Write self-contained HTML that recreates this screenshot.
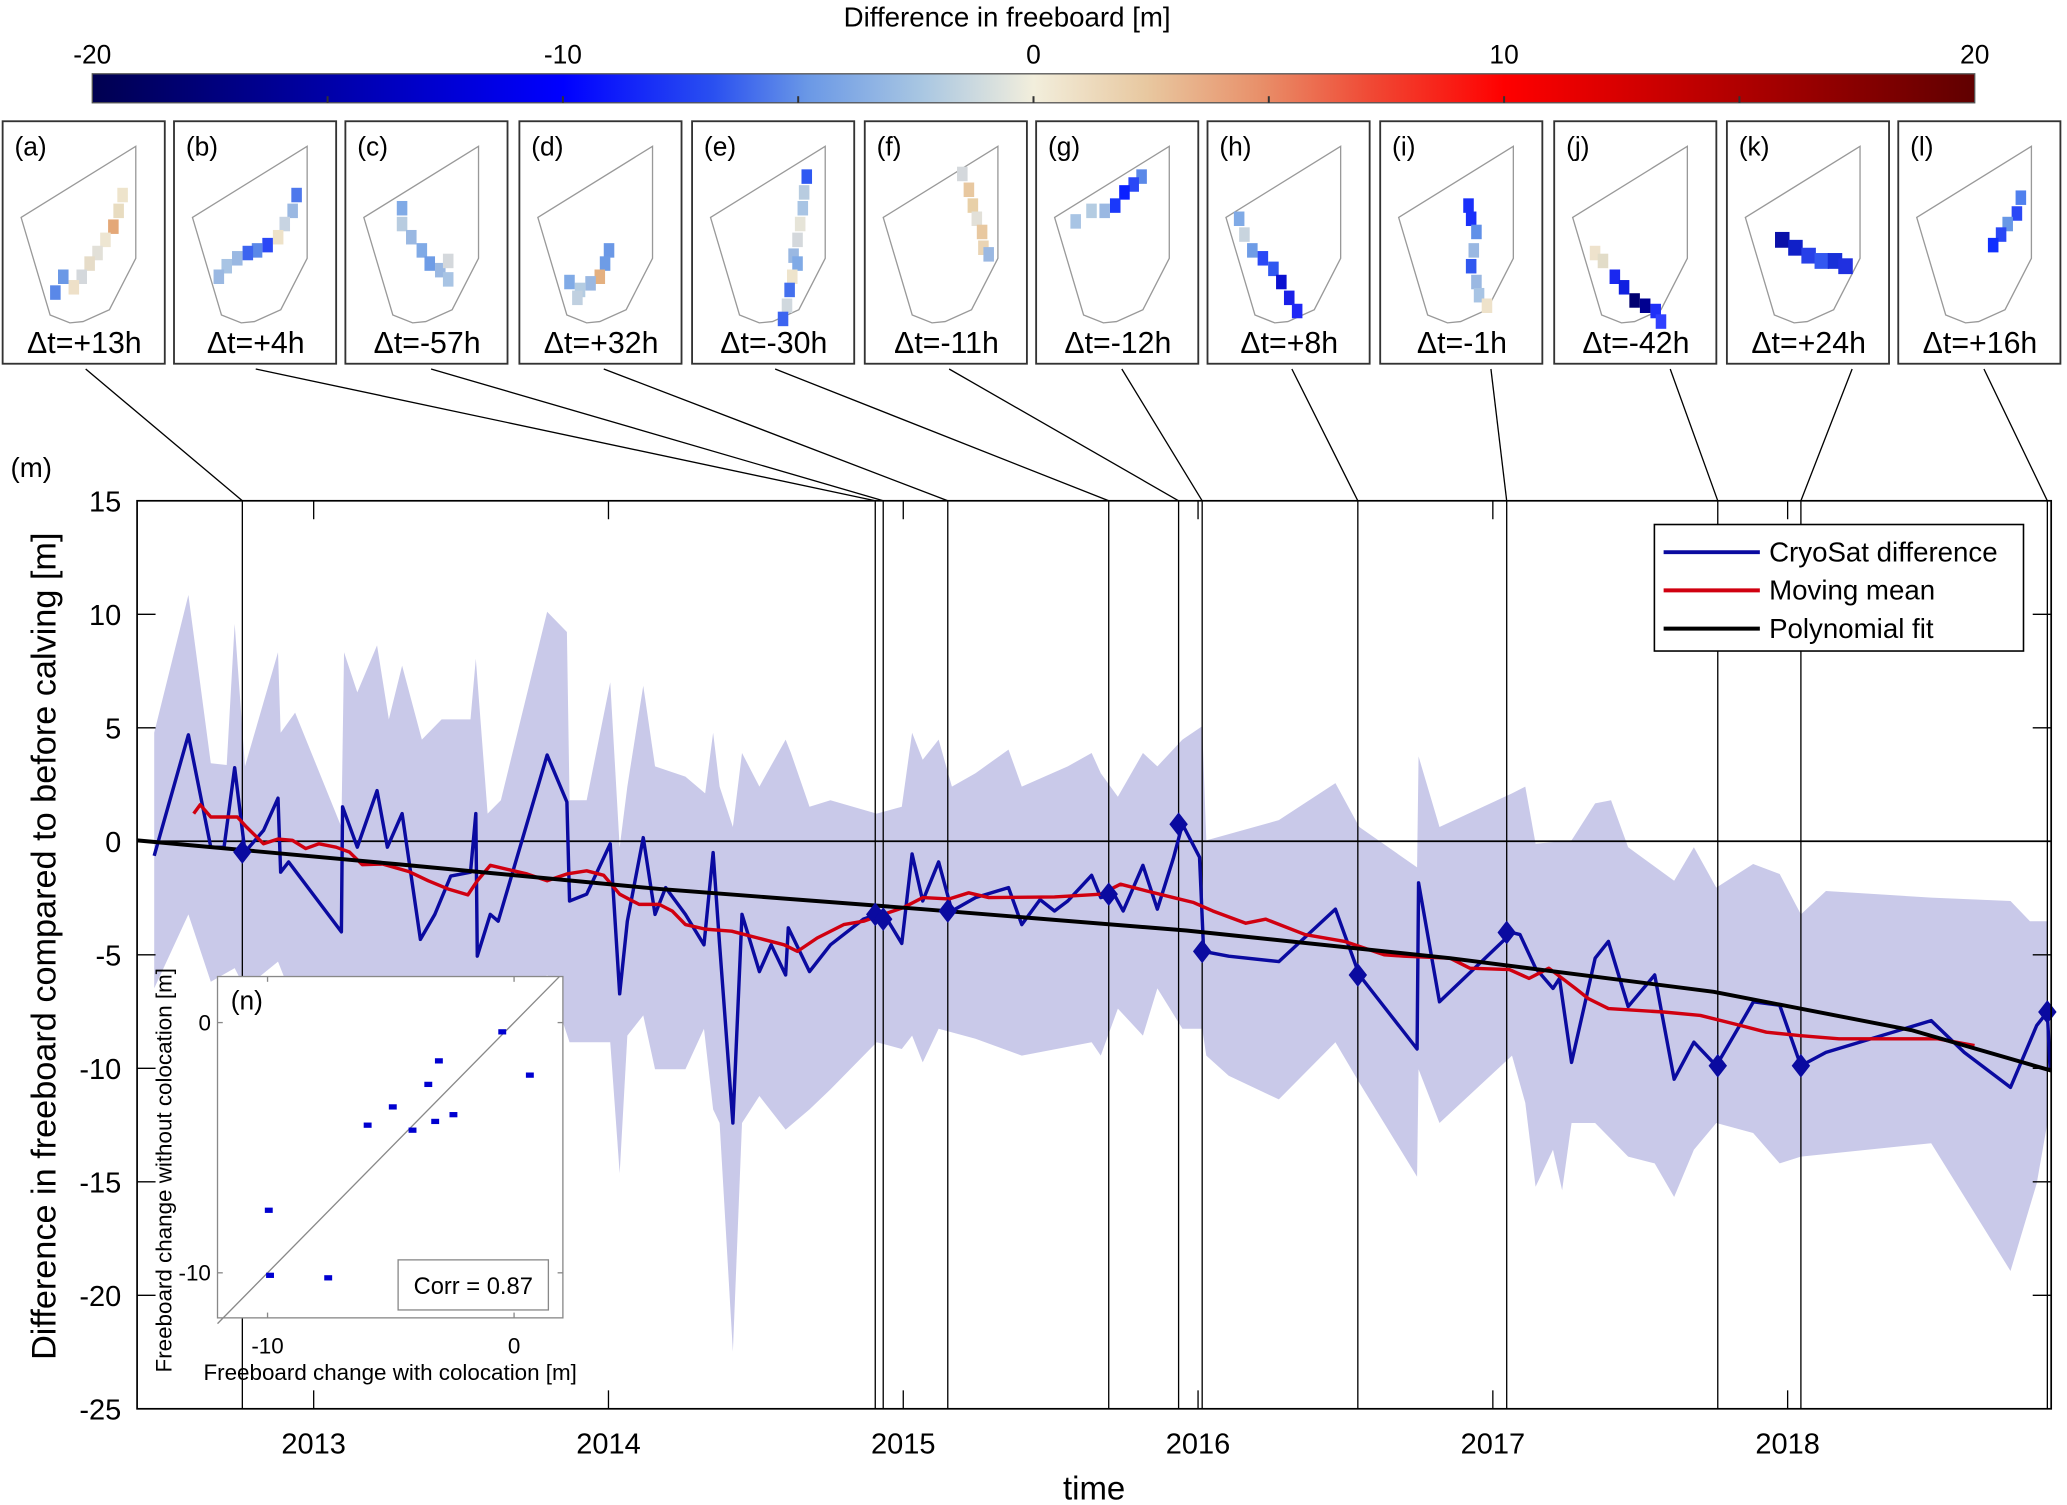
<!DOCTYPE html>
<html><head><meta charset="utf-8"><style>
html,body{margin:0;padding:0;background:#fff;}
svg{display:block;font-family:"Liberation Sans",Arial,sans-serif;}
</style></head><body>
<svg id="fig" xmlns="http://www.w3.org/2000/svg" width="2067" height="1505" viewBox="0 0 1568 1142" preserveAspectRatio="none">
<defs>
<linearGradient id="cmap" x1="0" x2="1" y1="0" y2="0">
<stop offset="0" stop-color="#000050"/>
<stop offset="0.25" stop-color="#0000ff"/>
<stop offset="0.33" stop-color="#2a50f0"/>
<stop offset="0.38" stop-color="#6a98e6"/>
<stop offset="0.44" stop-color="#a8c6e2"/>
<stop offset="0.5" stop-color="#f2eedc"/>
<stop offset="0.56" stop-color="#e8c8a0"/>
<stop offset="0.62" stop-color="#e8906a"/>
<stop offset="0.68" stop-color="#f04834"/>
<stop offset="0.75" stop-color="#ff0000"/>
<stop offset="1" stop-color="#600000"/>
</linearGradient>
</defs>
<g id="colorbar">
<text x="764" y="20" font-size="21" text-anchor="middle">Difference in freeboard  [m]</text>
<rect x="70" y="56" width="1428" height="22" fill="url(#cmap)" stroke="#555" stroke-width="1"/>
</g>
<g id="panels"></g>
<g id="connectors"></g>
<g id="main"></g>
<g id="inset"></g>
</svg>
<script>
// ---------- main chart data ----------
const blueTimes=[2012.459,2012.575,2012.651,2012.696,2012.732,2012.767,2012.830,2012.879,2012.888,2012.915,2013.094,2013.098,2013.148,2013.215,2013.250,2013.300,2013.362,2013.411,2013.465,2013.532,2013.550,2013.555,2013.599,2013.626,2013.792,2013.859,2013.868,2013.926,2014.006,2014.038,2014.064,2014.118,2014.158,2014.194,2014.261,2014.324,2014.355,2014.377,2014.422,2014.453,2014.512,2014.552,2014.601,2014.610,2014.682,2014.753,2014.865,2014.910,2014.945,2014.995,2015.030,2015.066,2015.120,2015.165,2015.245,2015.357,2015.402,2015.464,2015.513,2015.558,2015.639,2015.670,2015.715,2015.746,2015.813,2015.862,2015.916,2015.947,2016.005,2016.019,2016.104,2016.274,2016.466,2016.547,2016.743,2016.748,2016.819,2017.065,2017.092,2017.145,2017.204,2017.226,2017.267,2017.347,2017.392,2017.459,2017.549,2017.615,2017.682,2017.758,2017.884,2017.973,2018.045,2018.130,2018.487,2018.599,2018.756,2018.845,2018.881,2018.890];
const blueValues=[-0.64,4.69,-0.26,-0.26,3.24,-0.47,0.48,1.9,-1.36,-0.91,-3.99,1.52,-0.26,2.23,-0.26,1.22,-4.32,-3.22,-1.53,-1.36,1.22,-5.06,-3.22,-3.52,3.8,1.73,-2.63,-2.33,-0.11,-6.72,-3.52,0.16,-3.22,-2.04,-3.22,-4.56,-0.5,-4.56,-12.41,-3.22,-5.74,-4.56,-5.89,-3.81,-5.74,-4.56,-3.43,-3.22,-3.43,-4.5,-0.56,-2.63,-0.91,-3.07,-2.48,-2.04,-3.67,-2.57,-3.07,-2.63,-1.5,-2.48,-2.33,-3.07,-1.06,-2.99,-0.76,0.75,-0.7,-4.85,-5.06,-5.3,-2.99,-5.89,-9.15,-1.83,-7.07,-4.02,-4.11,-5.59,-6.48,-6.04,-9.74,-5.15,-4.41,-7.28,-5.89,-10.48,-8.85,-9.89,-7.07,-7.22,-9.89,-9.3,-7.9,-9.3,-10.84,-8.11,-7.52,-9.98];
const upperTimes=[2012.459,2012.575,2012.651,2012.705,2012.732,2012.767,2012.879,2012.888,2012.937,2013.094,2013.103,2013.148,2013.215,2013.255,2013.300,2013.367,2013.434,2013.532,2013.550,2013.590,2013.635,2013.792,2013.859,2013.868,2013.926,2014.006,2014.038,2014.064,2014.118,2014.158,2014.261,2014.328,2014.355,2014.377,2014.422,2014.453,2014.512,2014.601,2014.619,2014.682,2014.753,2014.910,2014.995,2015.030,2015.066,2015.120,2015.165,2015.245,2015.357,2015.402,2015.558,2015.639,2015.670,2015.728,2015.813,2015.862,2015.947,2016.014,2016.028,2016.274,2016.466,2016.547,2016.743,2016.748,2016.819,2017.065,2017.110,2017.145,2017.267,2017.347,2017.401,2017.459,2017.615,2017.682,2017.758,2017.883,2017.973,2018.045,2018.130,2018.487,2018.756,2018.822,2018.881];
const upperValues=[4.78,10.85,3.44,3.36,9.58,3.3,8.33,4.78,5.67,0.63,8.33,6.56,8.63,5.37,7.74,4.48,5.37,5.37,8.04,1.22,1.81,10.11,9.22,1.81,1.81,7.0,-0.26,2.41,6.85,3.3,2.85,2.11,4.78,2.41,0.63,3.89,2.41,4.48,3.89,1.52,1.81,1.22,1.52,4.78,3.59,4.48,2.41,3.0,4.04,2.41,3.3,3.89,3.0,1.96,3.89,3.3,4.48,5.07,0.04,0.93,2.56,0.63,-1.15,3.74,0.63,2.11,2.41,-0.11,0.04,1.67,1.81,-0.26,-1.74,-0.26,-2.04,-1.0,-1.44,-3.22,-2.19,-2.48,-2.63,-3.52,-3.52];
const lowerTimes=[2012.459,2012.575,2012.651,2012.732,2012.767,2012.879,2012.915,2013.094,2013.148,2013.215,2013.300,2013.367,2013.550,2013.635,2013.792,2013.868,2014.006,2014.038,2014.064,2014.118,2014.158,2014.261,2014.324,2014.355,2014.377,2014.422,2014.453,2014.512,2014.601,2014.682,2014.753,2014.910,2014.995,2015.030,2015.066,2015.120,2015.245,2015.402,2015.639,2015.670,2015.728,2015.813,2015.862,2015.947,2016.014,2016.028,2016.104,2016.274,2016.466,2016.547,2016.743,2016.748,2016.819,2017.065,2017.110,2017.145,2017.204,2017.235,2017.267,2017.347,2017.459,2017.549,2017.615,2017.682,2017.758,2017.883,2017.973,2018.045,2018.487,2018.756,2018.845,2018.881];
const lowerValues=[-6.48,-3.22,-6.19,-5.59,-6.48,-5.3,-6.48,-9.44,-6.78,-6.48,-6.19,-8.85,-9.44,-8.56,-5.89,-8.85,-8.85,-14.63,-8.56,-7.67,-10.04,-10.04,-8.26,-11.81,-12.41,-22.48,-12.41,-11.22,-12.7,-11.81,-10.93,-8.85,-9.15,-8.56,-9.74,-8.26,-8.7,-9.44,-8.85,-9.44,-7.37,-8.56,-6.48,-8.26,-8.26,-9.44,-10.33,-11.37,-8.85,-10.63,-14.78,-10.04,-12.41,-9.44,-11.52,-15.22,-13.59,-15.37,-12.41,-12.41,-13.89,-14.19,-15.67,-13.59,-12.41,-12.85,-14.19,-13.89,-13.3,-18.93,-15.07,-12.41];
const meanTimes=[2012.593,2012.615,2012.651,2012.741,2012.772,2012.830,2012.879,2012.928,2012.973,2013.018,2013.076,2013.121,2013.165,2013.233,2013.322,2013.389,2013.456,2013.523,2013.555,2013.599,2013.724,2013.792,2013.859,2013.926,2013.984,2014.038,2014.104,2014.172,2014.216,2014.261,2014.328,2014.418,2014.507,2014.596,2014.641,2014.708,2014.798,2014.865,2014.932,2014.999,2015.066,2015.155,2015.222,2015.290,2015.513,2015.670,2015.737,2015.826,2015.916,2015.983,2016.050,2016.162,2016.229,2016.363,2016.497,2016.631,2016.698,2016.855,2016.922,2017.056,2017.123,2017.190,2017.280,2017.324,2017.392,2017.579,2017.704,2017.839,2017.928,2018.040,2018.174,2018.509,2018.634];
const meanValues=[1.22,1.61,1.07,1.07,0.63,-0.11,0.1,0.04,-0.32,-0.11,-0.26,-0.47,-1.03,-1.0,-1.33,-1.74,-2.1,-2.36,-1.74,-1.06,-1.44,-1.74,-1.44,-1.3,-1.5,-2.33,-2.78,-2.78,-3.07,-3.67,-3.87,-3.96,-4.26,-4.56,-4.85,-4.26,-3.67,-3.52,-3.22,-2.93,-2.48,-2.54,-2.27,-2.48,-2.45,-2.33,-1.89,-2.19,-2.48,-2.69,-3.07,-3.61,-3.43,-4.11,-4.41,-5.0,-5.06,-5.15,-5.59,-5.65,-6.04,-5.59,-6.48,-6.93,-7.37,-7.52,-7.67,-8.11,-8.41,-8.56,-8.7,-8.7,-9.0];
const fitTimes=[2012.401,2013.277,2014.172,2015.066,2015.960,2016.855,2017.749,2018.420,2018.894];
const fitValues=[0.04,-1.0,-2.1,-2.99,-3.93,-5.15,-6.63,-8.32,-10.1];
const eventTimes=[2012.758,2014.905,2014.932,2015.151,2015.697,2015.934,2016.014,2016.542,2017.047,2017.763,2018.045,2018.881];
const eventValues=[-0.47,-3.22,-3.43,-3.07,-2.33,0.75,-4.85,-5.89,-4.02,-9.89,-9.89,-7.52];
const yearTicks=[2013,2014,2015,2016,2017,2018];
const yTicks=[15,10,5,0,-5,-10,-15,-20,-25];
const cbTicks=[-20,-10,0,10,20];
const cbMinor=[-15,-5,5,15];
// ---------- inset data ----------
const withColoc=[-0.48,-3.05,0.64,-3.48,-4.92,-5.94,-4.12,-3.2,-2.46,-9.95,-9.9,-7.54];
const withoutColoc=[-0.37,-1.53,-2.1,-2.47,-3.37,-4.1,-4.3,-3.95,-3.68,-7.5,-10.1,-10.2];
const insetXTicks=[-10,0];
const insetYTicks=[0,-10];
// ---------- panels ----------
const panelLabels=["(a)","(b)","(c)","(d)","(e)","(f)","(g)","(h)","(i)","(j)","(k)","(l)"];
const panelDt=["Δt=+13h","Δt=+4h","Δt=-57h","Δt=+32h","Δt=-30h","Δt=-11h","Δt=-12h","Δt=+8h","Δt=-1h","Δt=-42h","Δt=+24h","Δt=+16h"];

const NS="http://www.w3.org/2000/svg";
function mk(tag,attrs,parent){const e=document.createElementNS(NS,tag);for(const k in attrs)e.setAttribute(k,attrs[k]);parent.appendChild(e);return e;}

// colorbar ticks
const cb=document.getElementById('colorbar');
const cbx=v=>70+(v+20)/40*1428;
cbTicks.forEach(v=>{
  const t=mk('text',{x:cbx(v),y:48,'font-size':20,'text-anchor':'middle'},cb);t.textContent=v;
  
  
  if(v>-20&&v<20){const l=mk('line',{x1:cbx(v),x2:cbx(v),y1:73,y2:78,stroke:'#333','stroke-width':1.5},cb);
  
  }
});
cbMinor.forEach(v=>{const l=mk('line',{x1:cbx(v),x2:cbx(v),y1:73,y2:78,stroke:'#333','stroke-width':1.5},cb);
  
  });

// panels
const panelsG=document.getElementById('panels');
const boxL=[2,132,262,394,525,656,786,916,1047,1179,1310,1440];
const cells=[
 [[93,148,'#eee4cc'],[90,160,'#e8dcc0'],[86,172,'#e4a878'],[80,182,'#eee6d2'],[74,192,'#e2e0d8'],[68,200,'#e6dcc8'],[62,210,'#d4d8dc'],[56,218,'#eee0c8'],[48,210,'#6b98e6'],[42,222,'#5a88e8']],
 [[225,148,'#4e78ec'],[222,160,'#9ab8e2'],[216,170,'#c8d4e2'],[211,180,'#eee2c8'],[203,186,'#2a48f6'],[195,190,'#5a88e8'],[188,192,'#3c64f0'],[180,196,'#9ab8e2'],[172,202,'#a8c4e4'],[166,210,'#9ab8e2']],
 [[305,158,'#80aae6'],[305,170,'#b8cce0'],[312,180,'#9ab8e2'],[320,190,'#80aae6'],[326,200,'#6e9ce6'],[334,205,'#9ab8e2'],[340,198,'#d4d8dc'],[340,212,'#a8c4e4']],
 [[462,190,'#6b98e6'],[459,200,'#6e9ce6'],[455,210,'#e4b080'],[448,215,'#9ab8e2'],[440,220,'#b4cce2'],[432,214,'#80aae6'],[438,226,'#c0d0e0']],
 [[612,134,'#2e58f2'],[610,146,'#b8cce0'],[609,158,'#a8c4e4'],[607,170,'#e6e4d8'],[605,182,'#d4d8dc'],[602,194,'#9ab8e2'],[605,200,'#80aae6'],[601,210,'#eee4cc'],[599,220,'#4470ee'],[597,232,'#d0d8de'],[594,242,'#3c64f0']],
 [[730,132,'#d4d8dc'],[735,144,'#e8c8a0'],[738,156,'#e8d0a8'],[741,166,'#e2e0d8'],[745,176,'#e8c8a0'],[746,188,'#ead4b4'],[750,193,'#9ab8e2']],
 [[866,134,'#5a88e8'],[860,140,'#2a48f6'],[853,146,'#0a20ff'],[846,156,'#1a38fa'],[838,160,'#9ab8e2'],[828,160,'#b4cce2'],[816,168,'#a8c4e4']],
 [[940,166,'#80aae6'],[944,178,'#c8d4de'],[950,190,'#6e9ce6'],[958,196,'#2a48f6'],[966,204,'#3058f0'],[972,214,'#0a10d0'],[978,226,'#1a20e8'],[984,236,'#2028f6']],
 [[1114,156,'#1a30fa'],[1116,166,'#1a30fa'],[1120,176,'#6090e8'],[1118,190,'#9ab8e2'],[1116,202,'#3058f0'],[1120,214,'#9ab8e2'],[1122,224,'#a8c4e4'],[1128,232,'#eee2ca']],
 [[1210,192,'#eee2cc'],[1216,198,'#e2dcc8'],[1225,210,'#1a28f0'],[1232,218,'#1020e0'],[1240,228,'#000070'],[1248,232,'#000090'],[1256,236,'#2030f8'],[1260,244,'#3040ff']],
 [[1352,182,'#0a10a8'],[1362,188,'#1020c8'],[1372,194,'#2840e8'],[1382,198,'#3458f0'],[1392,198,'#1830d8'],[1400,202,'#2030e0']],
 [[1533,150,'#5080ee'],[1530,162,'#2a48f6'],[1523,170,'#6898e6'],[1518,178,'#2a48f6'],[1512,186,'#1030ff']]
];
boxL.forEach((L,i)=>{
  const g=mk('g',{},panelsG);
  
  
  const r=mk('rect',{x:L,y:92,width:123,height:184,fill:'#fff',stroke:'#333','stroke-width':1.4},g);
  
  
  const pts=[[102,19],[15,73],[37,147],[52,153],[62,152],[82,143],[102,104]].map(p=>(L+p[0]-1)+','+(92+p[1])).join(' ');
  const o=mk('polygon',{points:pts,fill:'none',stroke:'#999','stroke-width':1},g);
  
  
  cells[i].forEach(c=>{const w=(i===10)?11:8;const h=(i===10)?12:11;
    const cr=mk('rect',{x:c[0]-w/2,y:c[1]-h/2,width:w,height:h,fill:c[2]},g);
    
    });
  const t=mk('text',{x:L+9,y:118,'font-size':20},g);t.textContent=panelLabels[i];
  
  
  const d=mk('text',{x:L+62,y:268,'font-size':23,'text-anchor':'middle'},g);d.textContent=panelDt[i];
  
  
});

// main chart
const X0=104,X1=1556,T0=2012.401,T1=2018.894,Y0=380,Y1=1069;
const xs=t=>X0+(t-T0)/(T1-T0)*(X1-X0);
const ys=v=>Y0+(15-v)/40*(Y1-Y0);
const main=document.getElementById('main');
const conn=document.getElementById('connectors');
const boxCenters=[65,194,327,458,588,720,851,980,1131,1267,1405,1505];

// band
let bp=upperTimes.map((t,i)=>xs(t)+','+ys(upperValues[i]));
for(let i=lowerTimes.length-1;i>=0;i--)bp.push(xs(lowerTimes[i])+','+ys(lowerValues[i]));
const band=mk('polygon',{points:bp.join(' '),fill:'#c9c9e9',stroke:'none'},main);



// zero line
const zl=mk('line',{x1:X0,x2:X1,y1:ys(0),y2:ys(0),stroke:'#000','stroke-width':1.3},main);



// event lines + connectors
eventTimes.forEach((t,i)=>{
  const l=mk('line',{x1:xs(t),x2:xs(t),y1:Y0,y2:Y1,stroke:'#000','stroke-width':1},main);
  
  
  const c=mk('line',{x1:boxCenters[i],y1:280,x2:xs(t),y2:Y0,stroke:'#000','stroke-width':1},conn);
  
  
});

function pline(ts,vs,color,w,name){
  const p=mk('polyline',{points:ts.map((t,i)=>xs(t)+','+ys(vs[i])).join(' '),fill:'none',stroke:color,'stroke-width':w,'stroke-linejoin':'round'},main);
  
  
}
pline(blueTimes,blueValues,'#0a0aa0',2.6,'cryosat-difference-line');
pline(meanTimes,meanValues,'#d00010',2.6,'moving-mean-line');
pline(fitTimes,fitValues,'#000',3,'polynomial-fit-line');

eventTimes.forEach((t,i)=>{
  const x=xs(t),y=ys(eventValues[i]);
  const d=mk('polygon',{points:`${x},${y-9} ${x+7},${y} ${x},${y+9} ${x-7},${y}`,fill:'#0a0aa0'},main);
  
  
});

// axes frame
const fr=mk('rect',{x:X0,y:Y0,width:X1-X0,height:Y1-Y0,fill:'none',stroke:'#000','stroke-width':1.3},main);


yTicks.forEach(v=>{
  const y=ys(v);
  const a=mk('line',{x1:X0,x2:X0+14,y1:y,y2:y,stroke:'#000','stroke-width':1},main);
  
  
  const b=mk('line',{x1:X1-14,x2:X1,y1:y,y2:y,stroke:'#000','stroke-width':1},main);
  
  
  const t=mk('text',{x:92,y:y+8,'font-size':22,'text-anchor':'end'},main);t.textContent=v;
  
  
});
yearTicks.forEach(yr=>{
  const x=xs(yr);
  const a=mk('line',{x1:x,x2:x,y1:Y1-14,y2:Y1,stroke:'#000','stroke-width':1},main);
  
  
  const b=mk('line',{x1:x,x2:x,y1:Y0,y2:Y0+14,stroke:'#000','stroke-width':1},main);
  
  
  const t=mk('text',{x:x,y:1103,'font-size':22,'text-anchor':'middle'},main);t.textContent=yr;
  
  
});
const xt=mk('text',{x:830,y:1138,'font-size':25,'text-anchor':'middle'},main);xt.textContent='time';


const yt=mk('text',{x:0,y:0,'font-size':26,'text-anchor':'middle',transform:'translate(42,718) rotate(-90)'},main);
yt.textContent='Difference in freeboard compared to before calving [m]';


const ml=mk('text',{x:8,y:362,'font-size':21},main);ml.textContent='(m)';



// legend
const lg=mk('g',{},main);


mk('rect',{x:1255,y:398,width:280,height:96,fill:'#fff',stroke:'#000','stroke-width':1.2},lg);
[['CryoSat difference','#0a0aa0',419],['Moving mean','#d00010',448],['Polynomial fit','#000',477]].forEach(e=>{
  const g=mk('g',{},lg);
  
  
  mk('line',{x1:1262,x2:1335,y1:e[2],y2:e[2],stroke:e[1],'stroke-width':3},g);
  const t=mk('text',{x:1342,y:e[2]+7,'font-size':21},g);t.textContent=e[0];
});

// inset
const ins=document.getElementById('inset');
const IX0=165,IX1=427,IY0=741,IY1=1000,ixMin=-12.03,ixMax=1.98,iyMin=-11.8,iyMax=1.84;
const ix=v=>IX0+(v-ixMin)/(ixMax-ixMin)*(IX1-IX0);
const iy=v=>IY1-(v-iyMin)/(iyMax-iyMin)*(IY1-IY0);
const ib=mk('rect',{x:IX0,y:IY0,width:IX1-IX0,height:IY1-IY0,fill:'#fff',stroke:'#888','stroke-width':1},ins);


const lo=Math.max(ixMin,iyMin),hi=Math.min(ixMax,iyMax);
const dl=mk('line',{x1:ix(ixMin),y1:iy(ixMin),x2:ix(iyMax),y2:iy(iyMax),stroke:'#888','stroke-width':1},ins);


insetXTicks.forEach(v=>{
  mk('line',{x1:ix(v),x2:ix(v),y1:IY1-4,y2:IY1,stroke:'#888'},ins);
  mk('line',{x1:ix(v),x2:ix(v),y1:IY0,y2:IY0+4,stroke:'#888'},ins);
  const t=mk('text',{x:ix(v),y:1027,'font-size':17,'text-anchor':'middle'},ins);t.textContent=v;
  
  
});
insetYTicks.forEach(v=>{
  mk('line',{x1:IX0,x2:IX0+4,y1:iy(v),y2:iy(v),stroke:'#888'},ins);
  mk('line',{x1:IX1-4,x2:IX1,y1:iy(v),y2:iy(v),stroke:'#888'},ins);
  const t=mk('text',{x:160,y:iy(v)+6,'font-size':17,'text-anchor':'end'},ins);t.textContent=v;
  
  
});
withColoc.forEach((v,i)=>{
  const p=mk('rect',{x:ix(v)-3,y:iy(withoutColoc[i])-2,width:6,height:4,fill:'#0000d0'},ins);
  
  
});
const nl=mk('text',{x:175,y:766,'font-size':20},ins);nl.textContent='(n)';


const cbx2=mk('rect',{x:302,y:956,width:114,height:38,fill:'#fff',stroke:'#888','stroke-width':1},ins);


const ct=mk('text',{x:359,y:982,'font-size':18,'text-anchor':'middle'},ins);ct.textContent='Corr = 0.87';


const ixl=mk('text',{x:296,y:1047,'font-size':17,'text-anchor':'middle'},ins);ixl.textContent='Freeboard change with colocation [m]';


const iyl=mk('text',{x:0,y:0,'font-size':17,'text-anchor':'middle',transform:'translate(130,888) rotate(-90)'},ins);iyl.textContent='Freeboard change without colocation [m]';


</script>
</body></html>
